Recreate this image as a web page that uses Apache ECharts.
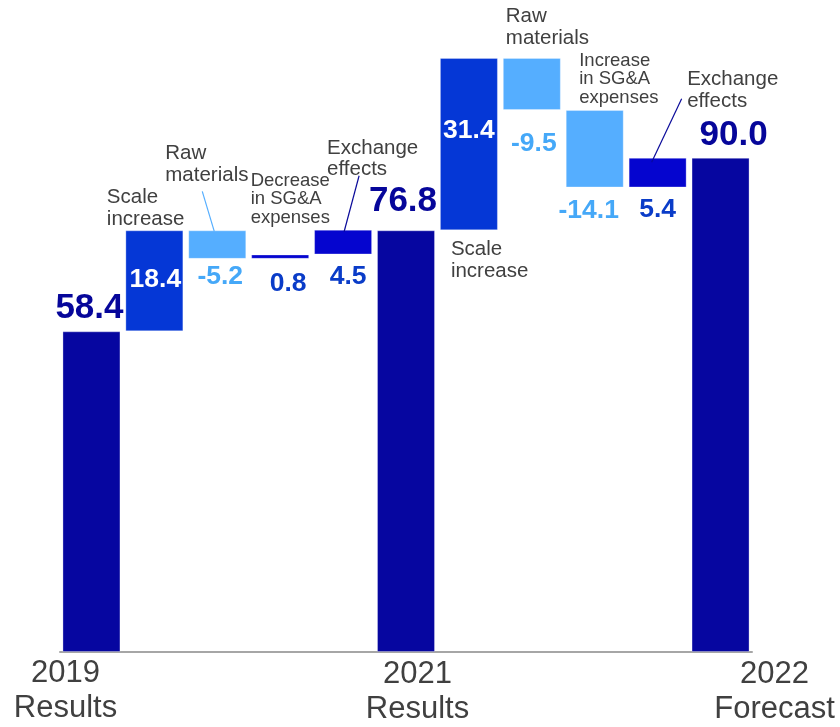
<!DOCTYPE html>
<html>
<head>
<meta charset="utf-8">
<script src="https://cdn.jsdelivr.net/npm/echarts@6/dist/echarts.min.js"></script>
<style>
  html, body { margin: 0; padding: 0; background: #ffffff; }
  #chart { width: 840px; height: 727px; }
</style>
</head>
<body>
<div id="chart"></div>
<script>
// Operating profit bridge: 2019 results -> 2021 results -> 2022 forecast
const categories = [
  '2019\nResults', 'Scale\nincrease', 'Raw\nmaterials', 'Decrease\nin SG&A\nexpenses', 'Exchange\neffects',
  '2021\nResults', 'Scale\nincrease', 'Raw\nmaterials', 'Increase\nin SG&A\nexpenses', 'Exchange\neffects',
  '2022\nForecast'
];
const stepKind = ['total', 'scale', 'raw', 'sga', 'fx', 'total', 'scale', 'raw', 'sga', 'fx', 'total'];
const values = [58.4, 18.4, -5.2, 0.8, 4.5, 76.8, 31.4, -9.5, -14.1, 5.4, 90.0];

const FONT = '"Liberation Sans", Arial, sans-serif';
const COLORS = {
  total: '#0606A0',
  scale: '#0537D6',
  up: '#0505CF',
  down: '#55AEFF',
  name: '#404040',
  upText: '#0A3CC8',
  downText: '#45A8F8',
  totalText: '#06069A'
};

// floating spans [low, high] for every column of the bridge
let running = 0;
const spans = values.map((v, i) => {
  if (stepKind[i] === 'total') { running = v; return [0, v]; }
  const from = running;
  running += v;
  return [Math.min(from, running), Math.max(from, running)];
});
const baseData = spans.map(s => s[0]);
const barData = spans.map((s, i) => {
  const v = values[i];
  let color;
  if (stepKind[i] === 'total') color = COLORS.total;
  else if (v < 0) color = COLORS.down;
  else if (stepKind[i] === 'scale') color = COLORS.scale;
  else color = COLORS.up;
  return { value: +(s[1] - s[0]).toFixed(2), itemStyle: { color } };
});

// label placement relative to each column (anchor edge, x shift, cap-top shift)
const valueLayout = [
  { anchor: 'top', dx: -2, dy: -36, size: 35 },
  { anchor: 'top', dx: 1, dy: 40, size: 26.5, inside: true },
  { anchor: 'bottom', dx: 3, dy: 8, size: 26.5 },
  { anchor: 'bottom', dx: 8, dy: 15, size: 26.5 },
  { anchor: 'bottom', dx: 5, dy: 13, size: 26.5 },
  { anchor: 'top', dx: -3, dy: -42, size: 35 },
  { anchor: 'top', dx: 0, dy: 63, size: 26.5, inside: true },
  { anchor: 'bottom', dx: 2, dy: 24, size: 26.5 },
  { anchor: 'bottom', dx: -6, dy: 14, size: 26.5 },
  { anchor: 'bottom', dx: 0, dy: 13, size: 26.5 },
  { anchor: 'top', dx: 13, dy: -35, size: 35 }
];
const nameLayout = {
  1: { anchor: 'top', dx: -47.5, dy: -40, size: 20.5, lh: 22 },
  2: { anchor: 'top', dx: -52, dy: -84, size: 20.5, lh: 22, line: [-15, -39, -3, 1], lineColor: '#55AEFF' },
  3: { anchor: 'top', dx: -29.5, dy: -80.5, size: 18.5, lh: 18.5 },
  4: { anchor: 'top', dx: -16, dy: -89, size: 20.5, lh: 21, line: [16, -54, 1, 2], lineColor: '#0A0A9A' },
  6: { anchor: 'bottom', dx: -18, dy: 11.5, size: 20.5, lh: 22 },
  7: { anchor: 'top', dx: -26, dy: -49, size: 20.5, lh: 21.5 },
  8: { anchor: 'top', dx: -15.5, dy: -56, size: 18.5, lh: 18.5 },
  9: { anchor: 'top', dx: 29.5, dy: -85.5, size: 20.5, lh: 22, line: [24, -59, -6, 4.5], lineColor: '#0A0A9A' }
};
const axisNameLayout = {
  0: { dx: -26, dy: 10 },
  5: { dx: 11.5, dy: 11 },
  10: { dx: 54, dy: 11 }
};

// text block whose first line has its cap height starting at capTop
function textBlock(x, capTop, str, size, lh, weight, color, align) {
  return {
    type: 'text',
    x: x,
    y: capTop - lh / 2 + 0.366 * size,
    style: {
      text: str,
      fill: color,
      fontSize: size,
      fontWeight: weight,
      fontFamily: FONT,
      align: align,
      verticalAlign: 'top',
      lineHeight: lh
    }
  };
}

function renderLabels(params, api) {
  const i = params.dataIndex;
  const top = api.coord([api.value(0), api.value(2)]);
  const bottom = api.coord([api.value(0), api.value(1)]);
  const zero = api.coord([api.value(0), 0]);
  const cx = top[0];
  const children = [];

  // value text
  const vl = valueLayout[i];
  const v = values[i];
  const ay = vl.anchor === 'top' ? top[1] : bottom[1];
  let color;
  if (stepKind[i] === 'total') color = COLORS.totalText;
  else if (vl.inside) color = '#ffffff';
  else if (v < 0) color = COLORS.downText;
  else color = COLORS.upText;
  children.push(textBlock(cx + vl.dx, ay + vl.dy, v.toFixed(1), vl.size, vl.size * 1.15, 'bold', color, 'center'));

  // step name with optional leader line
  const nl = nameLayout[i];
  if (nl) {
    const ny = nl.anchor === 'top' ? top[1] : bottom[1];
    children.push(textBlock(cx + nl.dx, ny + nl.dy, categories[i], nl.size, nl.lh, 'normal', COLORS.name, 'left'));
    if (nl.line) {
      children.push({
        type: 'line',
        shape: { x1: cx + nl.line[0], y1: ny + nl.line[1], x2: cx + nl.line[2], y2: ny + nl.line[3] },
        style: { stroke: nl.lineColor, lineWidth: 1.2 }
      });
    }
  }

  // axis captions under the result columns
  const al = axisNameLayout[i];
  if (al) {
    children.push(textBlock(cx + al.dx, zero[1] + al.dy, categories[i], 31, 35, 'normal', COLORS.name, 'center'));
  }
  return { type: 'group', children: children };
}

const chart = echarts.init(document.getElementById('chart'), null, { renderer: 'canvas' });
chart.setOption({
  animation: false,
  backgroundColor: '#ffffff',
  grid: { left: 60, right: 88, top: 48, bottom: 75, containLabel: false },
  xAxis: {
    type: 'category',
    data: categories,
    axisLine: { show: true, lineStyle: { color: '#A6A6A6', width: 2 } },
    axisTick: { show: false },
    axisLabel: { show: false },
    splitLine: { show: false }
  },
  yAxis: {
    type: 'value',
    min: 0,
    max: 110,
    show: false,
    splitLine: { show: false }
  },
  series: [
    {
      type: 'bar',
      stack: 'bridge',
      data: baseData,
      barWidth: 58,
      itemStyle: { color: 'transparent' },
      silent: true
    },
    {
      type: 'bar',
      stack: 'bridge',
      data: barData,
      barWidth: 58,
      itemStyle: { borderColor: 'rgba(255,255,255,0.3)', borderWidth: 1 },
      z: 2
    },
    {
      type: 'custom',
      data: spans.map((s, i) => [i, s[0], s[1]]),
      encode: { x: 0, y: [1, 2] },
      renderItem: renderLabels,
      clip: false,
      silent: true,
      z: 5
    }
  ]
});
</script>
</body>
</html>
